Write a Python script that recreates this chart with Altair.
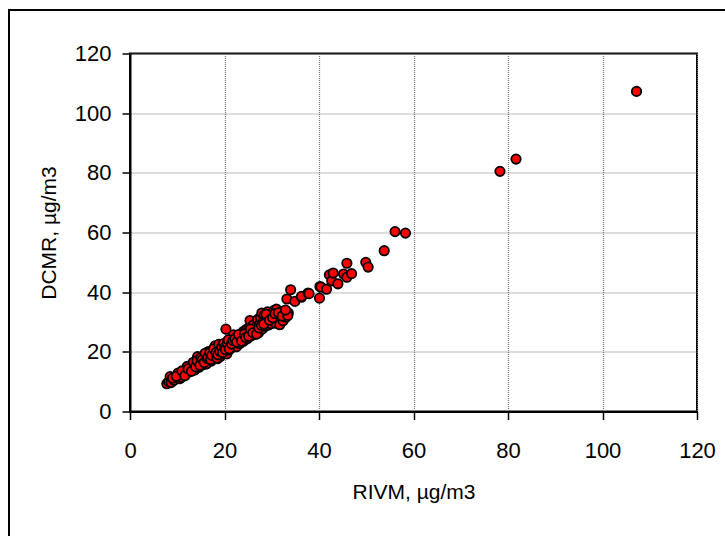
import altair as alt
import pandas as pd

rivm = [
    7.8, 8.2, 8.5, 8.7, 9.3, 10.2, 10.5, 10.9, 11.3, 11.8, 12.1, 12.5, 12.8, 13.2, 13.5, 13.7,
    14.0, 14.3, 14.5, 14.6, 14.9, 15.2, 15.4, 15.6, 15.8, 16.0, 16.2, 16.4, 16.6, 16.8, 17.0,
    17.2, 17.4, 17.6, 17.8, 18.0, 18.1, 18.3, 18.5, 18.7, 18.9, 19.1, 19.3, 19.5, 19.7, 19.9,
    20.1, 20.3, 20.5, 20.5, 20.7, 20.9, 21.1, 21.2, 21.4, 21.6, 21.9, 22.0, 22.3, 22.5, 22.7,
    22.9, 23.1, 23.3, 23.5, 23.8, 24.0, 24.0, 24.3, 24.6, 24.8, 25.0, 25.2, 25.4, 25.6, 25.9,
    26.1, 26.4, 26.5, 26.7, 27.0, 27.2, 27.4, 27.6, 27.9, 28.0, 28.2, 28.4, 28.6, 28.9, 29.1,
    29.3, 29.6, 29.8, 30.0, 30.3, 30.5, 30.8, 31.0, 31.3, 31.7, 31.7, 32.0, 32.4, 32.7, 33.0,
    33.2, 33.5, 34.0, 34.9, 36.3, 36.3, 37.7, 37.9, 40.1, 40.2, 40.4, 41.6, 42.2, 42.7, 43.0,
    44.0, 45.2, 45.9, 45.9, 46.9, 49.9, 50.4, 53.8, 56.1, 58.3, 78.3, 81.7, 107.2,
    9.0, 9.8, 11.0, 11.6, 12.3, 13.0, 13.4, 13.9, 14.2, 14.8, 15.0, 15.3, 15.7, 15.9, 16.3,
    16.5, 16.9, 17.1, 17.3, 17.7, 18.2, 18.4, 18.6, 18.8, 19.0, 19.4, 19.6, 19.8, 20.0, 20.2,
    20.6, 20.8, 21.0, 21.5, 21.8, 22.2, 22.6, 23.0, 23.6, 24.2, 24.5, 25.1, 25.5, 26.0, 26.8,
    27.3, 27.8, 28.3, 28.8, 29.5, 30.2, 30.7, 31.4, 32.2, 33.4, 32.9,
]
dcmr = [
    9.3, 10.0, 11.7, 9.7, 10.5, 12.9, 11.0, 11.5, 12.4, 13.1, 15.1, 13.2, 14.0, 14.6, 15.8, 13.9,
    16.4, 18.4, 16.0, 14.8, 17.2, 15.6, 16.9, 18.6, 17.5, 15.9, 16.0, 19.2, 20.1, 17.0, 18.3,
    16.9, 20.5, 19.0, 17.8, 22.0, 18.6, 20.6, 17.7, 21.3, 19.4, 18.4, 20.8, 22.3, 19.5, 21.0,
    20.0, 27.6, 19.3, 21.8, 23.0, 20.6, 22.4, 23.5, 21.2, 24.3, 25.7, 22.0, 23.1, 21.7, 24.9,
    24.6, 22.8, 22.9, 25.5, 24.0, 26.8, 23.5, 25.1, 27.5, 24.4, 26.2, 28.1, 30.5, 25.3, 27.0,
    29.0, 25.8, 27.4, 28.3, 30.8, 26.4, 29.2, 31.5, 33.0, 27.6, 30.0, 32.3, 28.6, 31.0, 33.4,
    29.0, 31.9, 29.4, 32.6, 30.3, 33.9, 29.6, 34.3, 32.0, 31.3, 29.1, 33.5, 30.4, 32.6, 31.6,
    37.7, 33.0, 40.8, 36.9, 38.3, 38.6, 39.7, 39.5, 38.0, 41.9, 41.7, 41.0, 45.8, 43.8, 46.4,
    42.8, 46.1, 45.0, 49.7, 46.2, 50.0, 48.4, 53.9, 60.3, 59.8, 80.5, 84.6, 107.3,
    11.2, 11.8, 13.6, 12.0, 14.3, 13.5, 16.5, 15.0, 17.0, 15.5, 18.0, 17.4, 16.4, 19.5, 17.8,
    18.2, 19.8, 17.4, 18.8, 21.0, 19.7, 17.9, 19.0, 22.5, 20.2, 21.6, 19.8, 22.8, 21.4, 20.7,
    22.9, 24.0, 21.0, 22.6, 23.8, 24.4, 23.3, 25.8, 23.6, 26.0, 24.8, 25.2, 27.6, 26.4, 26.0,
    28.0, 28.9, 29.3, 32.6, 30.6, 31.4, 32.8, 33.1, 32.0, 32.2, 34.0,
]
tick_values = [0, 20, 40, 60, 80, 100, 120]

df = pd.DataFrame({"RIVM": rivm, "DCMR": dcmr})

FONT = "Liberation Sans"
W, H = 567, 358

common = dict(
    values=tick_values,
    grid=True,
    gridColor="#7a7a7a",
    gridDash=[1, 1],
    gridWidth=1.2,
    domainColor="black",
    domainWidth=2,
    tickColor="black",
    tickWidth=1.5,
    tickSize=8,
    labelFont=FONT,
    labelFontSize=22,
    labelColor="black",
    labelFlush=False,
    labelOverlap=False,
    titleFont=FONT,
    titleFontSize=21,
    titleFontWeight="normal",
    titleColor="black",
)

x_axis = alt.Axis(
    title="RIVM, µg/m3", labelPadding=21, titleBaseline="top", titleY=70,
    titleX=W / 2, titleAlign="center", **common
)
y_axis = alt.Axis(
    title="DCMR, µg/m3", labelPadding=11, titleBaseline="top", titleAngle=270,
    titleX=-92, titleY=H / 2, titleAlign="center", **common
)

points = alt.Chart(df).mark_point(
    shape="circle", filled=True, fill="#ff0000", stroke="black",
    strokeWidth=1.8, size=88, opacity=1
).encode(
    x=alt.X("RIVM:Q", scale=alt.Scale(domain=[0, 120], nice=False, zero=True), axis=x_axis),
    y=alt.Y("DCMR:Q", scale=alt.Scale(domain=[0, 120], nice=False, zero=True), axis=y_axis),
)

border = alt.Chart(pd.DataFrame({"a": [0]})).mark_rect(
    fillOpacity=0, stroke="black", strokeWidth=2, clip=False
).encode(
    x=alt.value(-121), x2=alt.value(605),
    y=alt.value(-43.5), y2=alt.value(500),
)

chart = alt.layer(points, border).properties(
    width=W, height=H,
    autosize=alt.AutoSizeParams(type="none"),
    padding={"left": 130, "top": 53.5, "right": 28, "bottom": 124.5},
    background="white",
).configure_view(stroke="black", strokeWidth=2)

chart.save("out.html", embed_options={"renderer": "svg", "actions": False})
